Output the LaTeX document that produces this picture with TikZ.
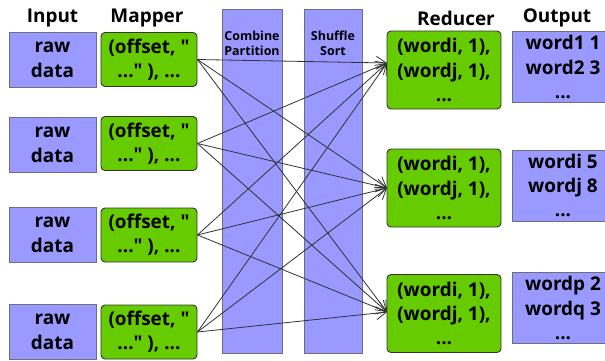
\documentclass[tikz,border=0pt]{standalone}
\usepackage{fontspec}
\setmainfont{Open Sans}[Ligatures=TeXOff]
\usetikzlibrary{arrows.meta}
\definecolor{boxblue}{RGB}{153,153,255}
\definecolor{boxgreen}{RGB}{102,204,0}
\definecolor{edgegray}{RGB}{110,110,120}
\definecolor{wire}{RGB}{50,50,50}
\begin{document}
\begin{tikzpicture}[x=1bp,y=-1bp,
  bigtext/.style={font=\bfseries\fontsize{19}{24.5}\selectfont, align=center},
  head/.style={bigtext, inner sep=0},
  inbox/.style={bigtext, draw=edgegray, fill=boxblue, line width=0.9bp,
    minimum width=87bp, minimum height=55bp, inner sep=0},
  mapbox/.style={bigtext, draw=black!80, fill=boxgreen, line width=0.9bp,
    rounded corners=4bp, minimum width=96bp, minimum height=54bp, inner sep=0},
  redbox/.style={bigtext, draw=black!80, fill=boxgreen, line width=0.9bp,
    rounded corners=4bp, minimum width=114bp, minimum height=78bp, inner sep=0},
  outbox/.style={bigtext, draw=edgegray, fill=boxblue, line width=0.9bp,
    minimum width=102bp, minimum height=71bp, inner sep=0},
  stagecol/.style={draw=edgegray, fill=boxblue, line width=0.9bp,
    minimum height=344bp, inner sep=0},
  stagelabel/.style={font=\bfseries\fontsize{12.5}{15}\selectfont, align=center, inner sep=0},
  conn/.style={draw=wire, line width=0.8bp, -{Straight Barb[length=10bp,width=13bp]}}
]
\useasboundingbox (0,0) rectangle (605,360);

% column headings
\node[head] (hin)  at (52.5,18) {Input};
\node[head] (hmap) at (147,18) {Mapper};
\node[head] (hred) at (456,18) {Reducer};
\node[head] (hout) at (557,18) {Output};

% combine / shuffle stages
\node[stagecol, minimum width=60bp] (cp) at (252,181) {};
\node[stagecol, minimum width=58bp] (ss) at (333,181) {};
\node[stagelabel] (cplabel) at (252,43) {Combine\\Partition};
\node[stagelabel] (sslabel) at (333,43) {Shuffle\\Sort};

% input splits
\node[inbox] (i1) at (52.5,60)  {raw\\data};
\node[inbox] (i2) at (52.5,145) {raw\\data};
\node[inbox] (i3) at (52.5,235) {raw\\data};
\node[inbox] (i4) at (52.5,332) {raw\\data};

% mappers
\node[mapbox] (m1) at (149,59.5)  {(offset, "\\..." ), ...};
\node[mapbox] (m2) at (149,143.5) {(offset, "\\..." ), ...};
\node[mapbox] (m3) at (149,235)   {(offset, "\\..." ), ...};
\node[mapbox] (m4) at (149,332)   {(offset, "\\..." ), ...};

% reducers
\node[redbox] (r1) at (444,70)    {(wordi, 1),\\(wordj, 1),\\...};
\node[redbox] (r2) at (444,188)   {(wordi, 1),\\(wordj, 1),\\...};
\node[redbox] (r3) at (444,313.5) {(wordi, 1),\\(wordj, 1),\\...};

% outputs
\node[outbox] (o1) at (563,67)    {word1 1\\word2 3\\...};
\node[outbox] (o2) at (563,185.5) {wordi 5\\wordj 8\\...};
\node[outbox] (o3) at (563,308)   {wordp 2\\wordq 3\\...};

% arrow targets on the reducers
\coordinate (t1) at (387,63);
\coordinate (t2) at (387,188);
\coordinate (t3) at (387,312);

% every mapper feeds every reducer
\foreach \m in {m1,m2,m3,m4}
  \foreach \t in {t1,t2,t3}
    \draw[conn] (\m.east) -- (\t);
\end{tikzpicture}
\end{document}
